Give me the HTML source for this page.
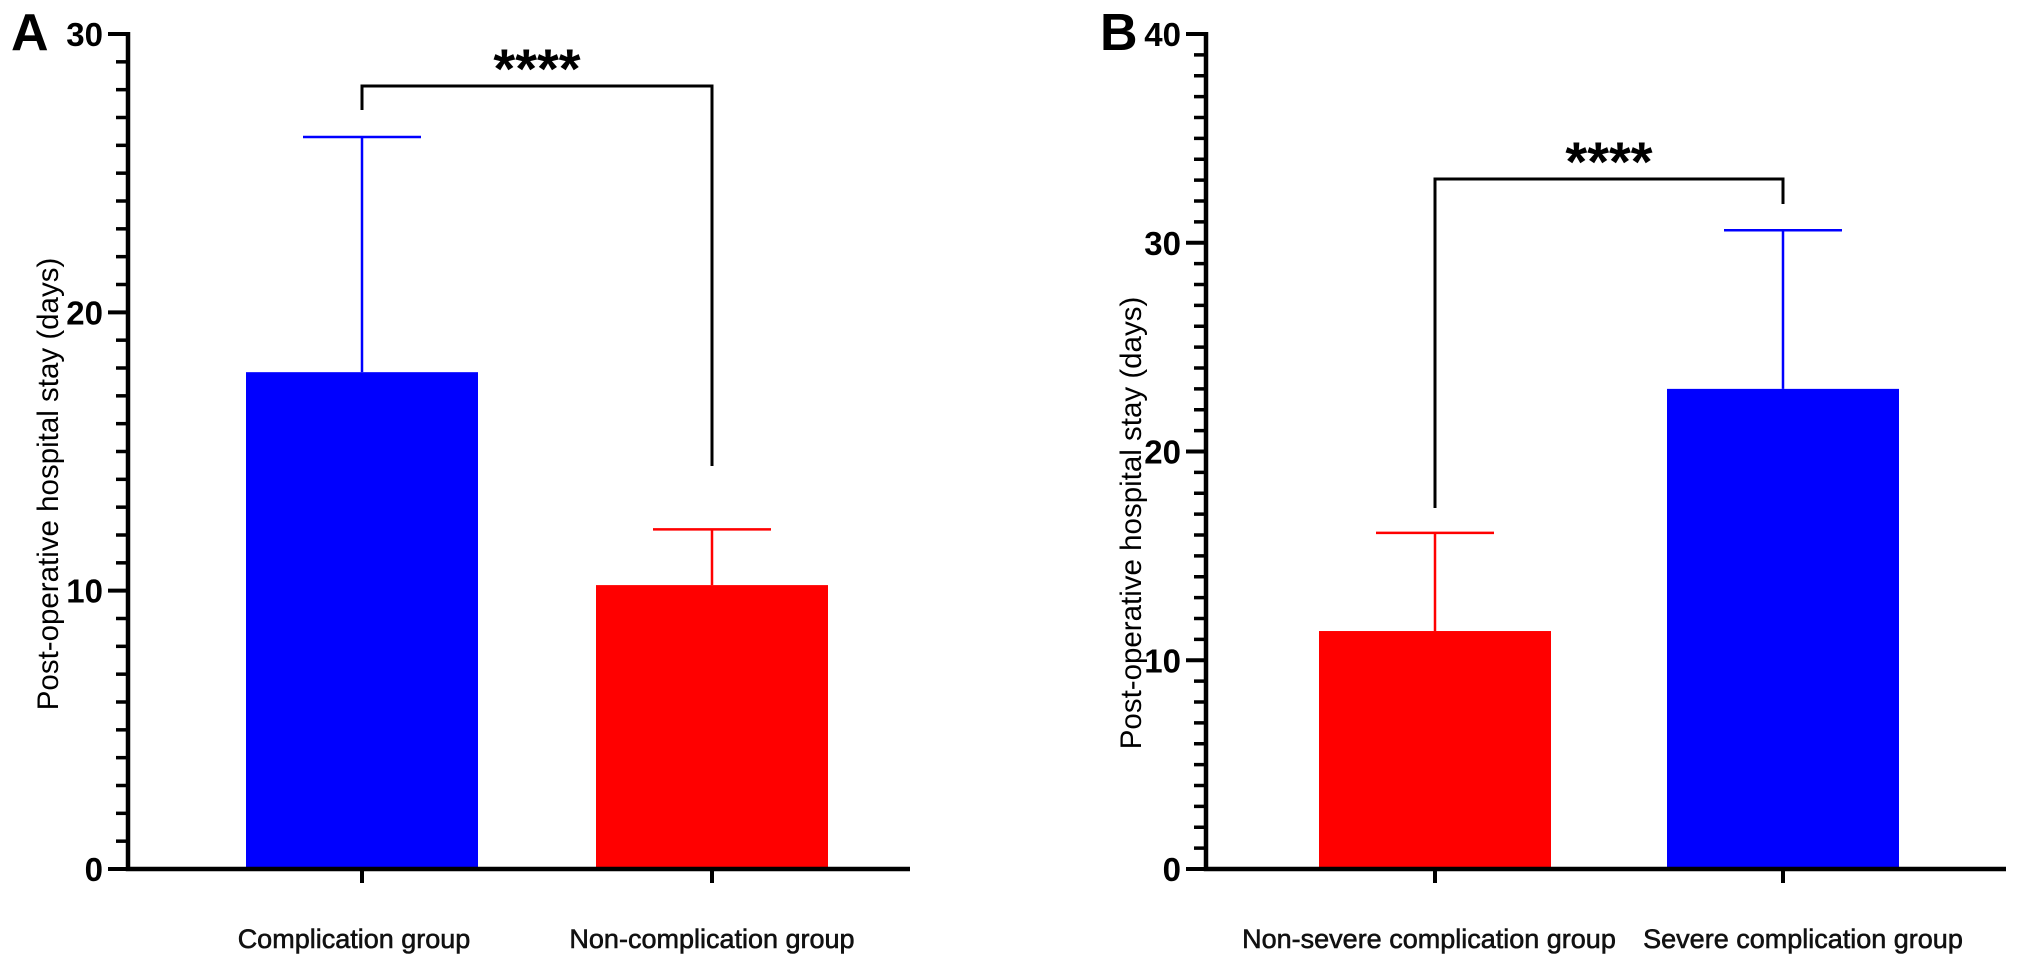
<!DOCTYPE html>
<html><head><meta charset="utf-8"><style>
html,body{margin:0;padding:0;background:#fff;}
svg{display:block;font-family:"Liberation Sans",Arial,sans-serif;}
</style></head><body>
<svg id="chart" width="2031" height="969" viewBox="0 0 2031 969" xmlns="http://www.w3.org/2000/svg"></svg>
<script>
const categoriesA = ["Complication group", "Non-complication group"];
const meansA = [17.85, 10.2];
const errorsA = [26.3, 12.2];
const colorsA = ["#0000ff", "#ff0000"];
const yTicksA = [0, 10, 20, 30];

const categoriesB = ["Non-severe complication group", "Severe complication group"];
const meansB = [11.4, 23.0];
const errorsB = [16.1, 30.6];
const colorsB = ["#ff0000", "#0000ff"];
const yTicksB = [0, 10, 20, 30, 40];

const NS = "http://www.w3.org/2000/svg";
const svg = document.getElementById("chart");
function mk(tag, attrs, parent, text) {
  const e = document.createElementNS(NS, tag);
  for (const k in attrs) e.setAttribute(k, attrs[k]);
  if (text !== undefined) e.textContent = text;
  (parent || svg).appendChild(e);
  return e;
}

function panel(cfg) {
  const g = mk("g", {});
  
  
  const y = v => cfg.y0 - (v / cfg.max) * (cfg.y0 - cfg.yTop);
  const x = i => cfg.centers[i];
  const L = mk("text", {x: cfg.letterX, y: 50, "font-size": 52, "font-weight": "bold"}, g, cfg.letter);
  
  
  cfg.means.forEach((m, i) => {
    const b = mk("rect", {x: x(i) - cfg.barW / 2, y: y(m), width: cfg.barW, height: cfg.y0 - y(m), fill: cfg.colors[i]}, g);
    
    
    const e = mk("path", {d: `M${x(i)},${y(m)}V${y(cfg.errs[i])}M${x(i) - cfg.capW / 2},${y(cfg.errs[i])}H${x(i) + cfg.capW / 2}`, stroke: cfg.colors[i], "stroke-width": 2.5, fill: "none"}, g);
    
    
    const lab = mk("text", {x: x(i) + cfg.labDx[i], y: cfg.labY, "font-size": 27, "text-anchor": "middle", fill: "#111", stroke: "#111", "stroke-width": 0.6}, g, cfg.cats[i]);
    
    
    const t = mk("line", {x1: x(i), x2: x(i), y1: cfg.y0, y2: cfg.y0 + 14, stroke: "#000", "stroke-width": 4}, g);
    
    
  });
  for (let v = 0; v <= cfg.max; v += 1) {
    const major = cfg.ticks.includes(v);
    const t = mk("line", {x1: cfg.ax - (major ? 20 : 12), x2: cfg.ax, y1: y(v), y2: y(v), stroke: "#000", "stroke-width": major ? 4 : 3.5}, g);
    
    
  }
  cfg.ticks.forEach(v => {
    const t = mk("text", {x: cfg.ax - 25, y: y(v) + 12, "font-size": 33, "font-weight": "bold", "text-anchor": "end"}, g, String(v));
    
    
  });
  const axes = mk("path", {d: `M${cfg.ax},${y(cfg.max) - 2}V${cfg.y0}H${cfg.axEnd}`, stroke: "#000", "stroke-width": 4.5, fill: "none"}, g);
  
  
  const yt = mk("text", {x: 0, y: 0, "font-size": 29.5, "text-anchor": "middle", transform: `translate(${cfg.titleX},${cfg.titleY}) rotate(-90)`}, g, "Post-operative hospital stay (days)");
  
  
  const br = mk("path", {d: `M${x(0)},${cfg.brL}V${cfg.brTop}H${x(1)}V${cfg.brR}`, stroke: "#000", "stroke-width": 3, fill: "none"}, g);
  
  
  const st = mk("text", {x: (x(0) + x(1)) / 2, y: cfg.brTop + 2, "font-size": 56, "font-weight": "bold", "text-anchor": "middle"}, g, "****");
  
  
}

panel({name: "panel-a", letter: "A", letterX: 11, ax: 128, axEnd: 910, y0: 869, yTop: 34, max: 30,
  ticks: yTicksA, centers: [362, 712], barW: 232, capW: 118, cats: categoriesA, means: meansA, errs: errorsA,
  colors: colorsA, labY: 948, labDx: [-8, 0], titleX: 58, titleY: 484, brTop: 86, brL: 110, brR: 466});
panel({name: "panel-b", letter: "B", letterX: 1100, ax: 1206, axEnd: 2006, y0: 869, yTop: 34, max: 40,
  ticks: yTicksB, centers: [1435, 1783], barW: 232, capW: 118, cats: categoriesB, means: meansB, errs: errorsB,
  colors: colorsB, labY: 948, labDx: [-6, 20], titleX: 1141, titleY: 523, brTop: 179, brL: 508, brR: 204});
</script>
</body></html>
